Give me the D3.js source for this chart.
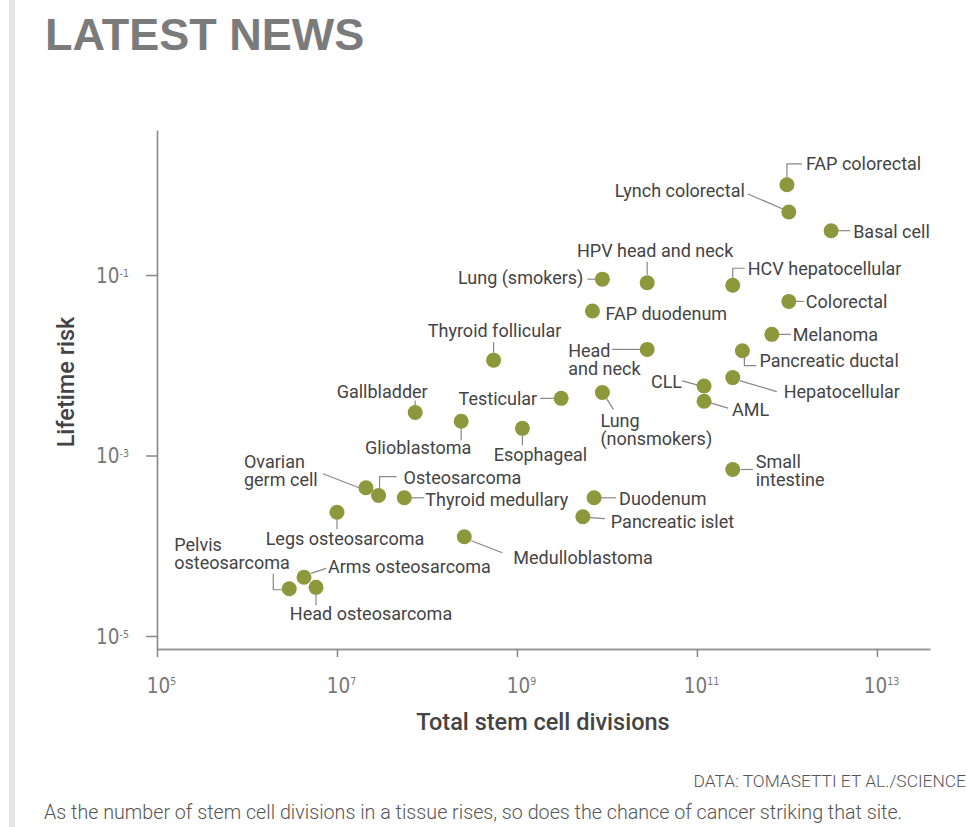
<!DOCTYPE html>
<html>
<head>
<meta charset="utf-8">
<script src="https://cdn.jsdelivr.net/npm/d3@7"></script>
<style>
	body { margin: 0; background: #fff; }
	text { font-family: Roboto, "Liberation Sans", sans-serif; }
</style>
</head>
<body>
<script>

// cancer types, stem cell divisions (x) and lifetime risk (y)
var cancers = [
	"FAP colorectal", "Lynch colorectal", "Basal cell", "Lung (smokers)",
	"HPV head and neck", "HCV hepatocellular", "Colorectal", "FAP duodenum",
	"Melanoma", "Thyroid follicular", "Head and neck", "Pancreatic ductal",
	"Hepatocellular", "CLL", "AML", "Lung (nonsmokers)", "Testicular",
	"Gallbladder", "Glioblastoma", "Esophageal", "Small intestine",
	"Ovarian germ cell", "Osteosarcoma", "Thyroid medullary", "Duodenum",
	"Pancreatic islet", "Legs osteosarcoma", "Medulloblastoma",
	"Arms osteosarcoma", "Pelvis osteosarcoma", "Head osteosarcoma"
];

var divisions = [
	1.0e12, 1.05e12, 3.1e12, 8.9e9,
	2.8e10, 2.5e11, 1.05e12, 6.9e9,
	6.8e11, 5.5e8, 2.8e10, 3.2e11,
	2.5e11, 1.2e11, 1.2e11, 8.9e9, 3.1e9,
	7.4e7, 2.4e8, 1.15e9, 2.5e11,
	2.1e7, 2.9e7, 5.6e7, 7.2e9,
	5.4e9, 1.0e7, 2.6e8,
	4.3e6, 2.95e6, 5.85e6
];

var risks = [
	1.0, 0.5, 0.31, 0.09,
	0.082, 0.077, 0.051, 0.040,
	0.022, 0.0114, 0.015, 0.0145,
	0.0073, 0.0059, 0.0040, 0.0050, 0.0043,
	0.0030, 0.0024, 0.0020, 0.0007,
	0.00044, 0.00036, 0.00034, 0.00034,
	0.00021, 0.000235, 0.000126,
	0.0000447, 0.0000334, 0.0000346
];

var xTicks = [1e5, 1e7, 1e9, 1e11, 1e13];
var yTicks = [1e-5, 1e-3, 1e-1];

// where each label sits relative to its dot, plus the leader line
var labelLayout = {
	"FAP colorectal":      { dx: 19,   dy: -21, anchor: "start",  leader: [[0, -7], [0, -21], [15, -21]] },
	"Lynch colorectal":    { dx: -44,  dy: -21, anchor: "end",    leader: [[-41, -18], [-6, -3]] },
	"Basal cell":          { dx: 22,   dy: 1,   anchor: "start",  leader: [[7, 0], [19, 0]] },
	"Lung (smokers)":      { dx: -19,  dy: -1,  anchor: "end",    leader: [[-15, 0], [-7, 0]] },
	"HPV head and neck":   { dx: 8,    dy: -32, anchor: "middle", leader: [[0, -8], [0, -21]] },
	"HCV hepatocellular":  { dx: 15,   dy: -17, anchor: "start",  leader: [[0, -7], [0, -17], [12, -17]] },
	"Colorectal":          { dx: 17,   dy: 0,   anchor: "start",  leader: [[7, 0], [15, 0]] },
	"FAP duodenum":        { dx: 13,   dy: 3,   anchor: "start",  leader: null },
	"Melanoma":            { dx: 21,   dy: 0,   anchor: "start",  leader: [[7, 0], [19, 0]] },
	"Thyroid follicular":  { dx: 1,    dy: -29, anchor: "middle", leader: [[0, -7], [0, -18]] },
	"Head and neck":       { dx: -79,  dy: 1,   anchor: "start",  lines: ["Head", "and neck"], leader: [[-35, 0], [-7, 0]] },
	"Pancreatic ductal":   { dx: 17,   dy: 10,  anchor: "start",  leader: [[2, 6], [2, 15], [14, 15]] },
	"Hepatocellular":      { dx: 51,   dy: 14,  anchor: "start",  leader: [[7, 3], [44, 14]] },
	"CLL":                 { dx: -22,  dy: -4,  anchor: "end",    leader: [[-22, -5], [-7, -1]] },
	"AML":                 { dx: 28,   dy: 9,   anchor: "start",  leader: [[7, 2], [24, 7]] },
	"Lung (nonsmokers)":   { dx: -2,   dy: 28,  anchor: "start",  lines: ["Lung", "(nonsmokers)"], leader: [[4, 6], [11, 17]] },
	"Testicular":          { dx: -24,  dy: 0,   anchor: "end",    leader: [[-21, 0], [-7, 0]] },
	"Gallbladder":         { dx: -33,  dy: -21, anchor: "middle", leader: [[0, -12], [0, -7]] },
	"Glioblastoma":        { dx: -43,  dy: 26,  anchor: "middle", leader: [[0, 7], [0, 19]] },
	"Esophageal":          { dx: 18,   dy: 26,  anchor: "middle", leader: [[0, 7], [0, 17]] },
	"Small intestine":     { dx: 23,   dy: -8,  anchor: "start",  lines: ["Small", "intestine"], leader: [[8, 0], [20, 0]] },
	"Ovarian germ cell":   { dx: -122, dy: -26, anchor: "start",  lines: ["Ovarian", "germ cell"], leader: [[-43, -14], [-7, 0]] },
	"Osteosarcoma":        { dx: 25,   dy: -18, anchor: "start",  leader: [[1, -7], [1, -19], [18, -19]] },
	"Thyroid medullary":   { dx: 21,   dy: 2,   anchor: "start",  leader: [[7, 0], [20, 0]] },
	"Duodenum":            { dx: 25,   dy: 1,   anchor: "start",  leader: [[7, 0], [22, 0]] },
	"Pancreatic islet":    { dx: 28,   dy: 5,   anchor: "start",  leader: [[7, 1], [22, 2]] },
	"Legs osteosarcoma":   { dx: 8,    dy: 26,  anchor: "middle", leader: [[0, 7], [0, 17]] },
	"Medulloblastoma":     { dx: 49,   dy: 21,  anchor: "start",  leader: [[7, 4], [38, 16]] },
	"Arms osteosarcoma":   { dx: 24,   dy: -11, anchor: "start",  leader: [[7, -4], [22, -9]] },
	"Pelvis osteosarcoma": { dx: -115, dy: -44, anchor: "start",  lines: ["Pelvis", "osteosarcoma"], leader: [[-16, -15], [-16, 1], [-7, 1]] },
	"Head osteosarcoma":   { dx: 55,   dy: 26,  anchor: "middle", leader: [[0, 7], [0, 18]] }
};

var points = cancers.map(function(name, i) {
	return { name: name, divisions: divisions[i], risk: risks[i] };
});

var canvas = d3.select("body").append("svg")
	.attr("width", 967)
	.attr("height", 827);

// grey side rule
canvas.append("rect")
	.attr("x", 9)
	.attr("y", 0)
	.attr("width", 6)
	.attr("height", 827)
	.attr("fill", "#e6e6e6");

canvas.append("text")
	.attr("x", 45)
	.attr("y", 50)
	.style("font-family", "'Liberation Sans', Arial, sans-serif")
	.style("font-size", "45px")
	.style("font-weight", "bold")
	.attr("fill", "#7b7b7b")
	.text("LATEST NEWS");

var x = d3.scaleLog()
	.domain([1e5, Math.pow(10, 13.59)])
	.range([157, 930]);

var y = d3.scaleLog()
	.domain([Math.pow(10, -5.144), Math.pow(10, 0.607)])
	.range([649, 130]);

var tickFont = "'Liberation Sans Narrow', 'DejaVu Sans Condensed', Roboto, sans-serif";

function exponent(v) {
	return Math.round(Math.log10(v)).toString();
}

// x axis
var xAxis = canvas.append("g")
	.attr("transform", "translate(0,649)")
	.call(d3.axisBottom(x).tickValues(xTicks).tickSize(8).tickSizeOuter(0).tickFormat(""));

xAxis.select(".domain").attr("stroke", "#999").attr("stroke-width", 2.2);
xAxis.selectAll(".tick line").attr("stroke", "#888").attr("stroke-width", 1.5);

var xLabels = xAxis.selectAll(".tick").append("text")
	.attr("x", 4)
	.attr("y", 44)
	.attr("text-anchor", "middle")
	.attr("fill", "#777")
	.style("font-family", tickFont)
	.style("font-size", "20.5px");
xLabels.append("tspan").text("10");
xLabels.append("tspan")
	.attr("dy", -8)
	.style("font-size", "10.5px")
	.text(function(d) { return exponent(d); });

// y axis
var yAxis = canvas.append("g")
	.attr("transform", "translate(157,0)")
	.call(d3.axisLeft(y).tickValues(yTicks).tickSize(11).tickSizeOuter(0).tickFormat(""));

yAxis.select(".domain").attr("stroke", "#888").attr("stroke-width", 1.6);
yAxis.selectAll(".tick line").attr("stroke", "#888").attr("stroke-width", 1.5);

var yLabels = yAxis.selectAll(".tick").append("text")
	.attr("x", -28)
	.attr("dy", "0.35em")
	.attr("text-anchor", "end")
	.attr("fill", "#777")
	.style("font-family", tickFont)
	.style("font-size", "20.5px");
yLabels.append("tspan").text("10");
yLabels.append("tspan")
	.attr("dy", -6)
	.style("font-size", "10.5px")
	.text(function(d) { return exponent(d); });

// axis titles
canvas.append("text")
	.attr("x", 543)
	.attr("y", 730)
	.attr("text-anchor", "middle")
	.attr("fill", "#444")
	.style("font-size", "23.5px")
	.style("font-weight", 500)
	.text("Total stem cell divisions");

canvas.append("text")
	.attr("transform", "translate(74,382) rotate(-90)")
	.attr("text-anchor", "middle")
	.attr("fill", "#444")
	.style("font-size", "23.5px")
	.style("font-weight", 500)
	.text("Lifetime risk");

// leader lines
var leaderLine = d3.line();

canvas.append("g").selectAll("path")
	.data(points.filter(function(d) { return labelLayout[d.name].leader; }))
	.enter().append("path")
	.attr("fill", "none")
	.attr("stroke", "#888")
	.attr("stroke-width", 1.2)
	.attr("d", function(d) {
		var px = x(d.divisions), py = y(d.risk);
		return leaderLine(labelLayout[d.name].leader.map(function(p) {
			return [px + p[0], py + p[1]];
		}));
	});

// dots
canvas.append("g").selectAll("circle")
	.data(points)
	.enter().append("circle")
	.attr("cx", function(d) { return x(d.divisions); })
	.attr("cy", function(d) { return y(d.risk); })
	.attr("r", 7.5)
	.attr("fill", "#8b983c");

// labels
var labels = canvas.append("g").selectAll("text")
	.data(points)
	.enter().append("text")
	.attr("x", function(d) { return x(d.divisions) + labelLayout[d.name].dx; })
	.attr("y", function(d) { return y(d.risk) + labelLayout[d.name].dy; })
	.attr("text-anchor", function(d) { return labelLayout[d.name].anchor; })
	.attr("fill", "#444")
	.style("font-size", "18px");

labels.each(function(d) {
	var lay = labelLayout[d.name];
	var lines = lay.lines || [d.name];
	var t = d3.select(this);
	lines.forEach(function(line, i) {
		t.append("tspan")
			.attr("x", x(d.divisions) + lay.dx)
			.attr("dy", i === 0 ? "0.35em" : "18px")
			.text(line);
	});
});

// source and caption
canvas.append("text")
	.attr("x", 966)
	.attr("y", 787)
	.attr("text-anchor", "end")
	.attr("fill", "#555")
	.style("font-size", "17.4px")
	.style("font-weight", 300)
	.text("DATA: TOMASETTI ET AL./SCIENCE");

canvas.append("text")
	.attr("x", 44)
	.attr("y", 819)
	.attr("fill", "#555")
	.style("font-size", "19.7px")
	.style("font-weight", 300)
	.text("As the number of stem cell divisions in a tissue rises, so does the chance of cancer striking that site.");

</script>
</body>
</html>
